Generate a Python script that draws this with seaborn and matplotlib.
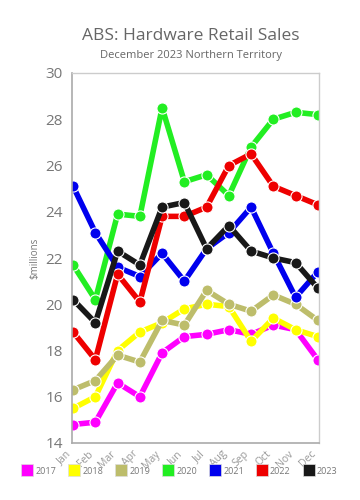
import pandas as pd
import numpy as np
import matplotlib
matplotlib.use('Agg')
import matplotlib.pyplot as plt
import seaborn as sns
from matplotlib.lines import Line2D

months = ['Jan', 'Feb', 'Mar', 'Apr', 'May', 'Jun', 'Jul', 'Aug', 'Sep', 'Oct', 'Nov', 'Dec']
years = ['2017', '2018', '2019', '2020', '2021', '2022', '2023']
colors = ['#ff00ff', '#ffff00', '#bdbd6b', '#22ee22', '#0000ee', '#ee0000', '#181818']

sales_2017 = [14.8, 14.9, 16.6, 16.0, 17.9, 18.6, 18.7, 18.9, 18.7, 19.1, 18.9, 17.6]
sales_2018 = [15.5, 16.0, 18.0, 18.8, 19.2, 19.8, 20.0, 19.9, 18.4, 19.4, 18.9, 18.6]
sales_2019 = [16.3, 16.7, 17.8, 17.5, 19.3, 19.1, 20.6, 20.0, 19.7, 20.4, 20.0, 19.3]
sales_2020 = [21.7, 20.2, 23.9, 23.8, 28.5, 25.3, 25.6, 24.7, 26.8, 28.0, 28.3, 28.2]
sales_2021 = [25.1, 23.1, 21.6, 21.2, 22.2, 21.0, 22.4, 23.1, 24.2, 22.2, 20.3, 21.4]
sales_2022 = [18.8, 17.6, 21.3, 20.1, 23.8, 23.8, 24.2, 26.0, 26.5, 25.1, 24.7, 24.3]
sales_2023 = [20.2, 19.2, 22.3, 21.7, 24.2, 24.4, 22.4, 23.4, 22.3, 22.0, 21.8, 20.7]

series = [sales_2017, sales_2018, sales_2019, sales_2020, sales_2021, sales_2022, sales_2023]
df = pd.DataFrame({
    'month': months * len(years),
    'year': np.repeat(years, len(months)),
    'sales': np.concatenate(series),
})

sns.set_style('white')
plt.rcParams['font.family'] = ['Open Sans', 'DejaVu Sans']
grey = '#777777'

fig = plt.figure(figsize=(3.6, 5.0), dpi=100)
ax = fig.add_axes([0.2, 0.114, 0.686, 0.74])

sns.lineplot(data=df, x='month', y='sales', hue='year', hue_order=years,
             palette=colors, sort=False, linewidth=4, marker='o', markersize=8,
             markeredgecolor='white', markeredgewidth=0.8, legend=False, ax=ax)

ax.set_ylim(14, 30)
ax.set_yticks(range(14, 31, 2))
ax.set_xlim(-0.05, 11.05)
ax.set_xticks(range(len(months)))
ax.set_xticklabels(months, rotation=45, ha='right', fontsize=7.5, color='#999999')
ax.set_xlabel('')
ax.set_ylabel('$millions', fontsize=7, color=grey)
ax.tick_params(axis='y', labelsize=11, colors=grey, length=3, width=0.8)
ax.tick_params(axis='x', color='#aaaaaa', length=3, width=0.8, pad=1)
for side in ['left', 'bottom']:
    ax.spines[side].set_color('#aaaaaa')
    ax.spines[side].set_linewidth(1.2)
for side in ['top', 'right']:
    ax.spines[side].set_color('#cccccc')
    ax.spines[side].set_linewidth(1.0)

fig.text(0.53, 0.927, 'ABS: Hardware Retail Sales', ha='center', va='center',
         fontsize=12.5, color='#666666')
fig.text(0.53, 0.889, 'December 2023 Northern Territory', ha='center', va='center',
         fontsize=8, color='#666666')

handles = [Line2D([], [], linestyle='', marker='s', markersize=8.5, markerfacecolor=c,
                  markeredgecolor='#dddddd', markeredgewidth=0.5) for c in colors]
leg = fig.legend(handles, years, loc='center', bbox_to_anchor=(0.5, 0.058), ncol=7,
                 frameon=False, fontsize=6.5, handletextpad=0.4, columnspacing=1.5,
                 handlelength=1.0)
for t in leg.get_texts():
    t.set_color(grey)

fig.savefig('out.png', dpi=100)
